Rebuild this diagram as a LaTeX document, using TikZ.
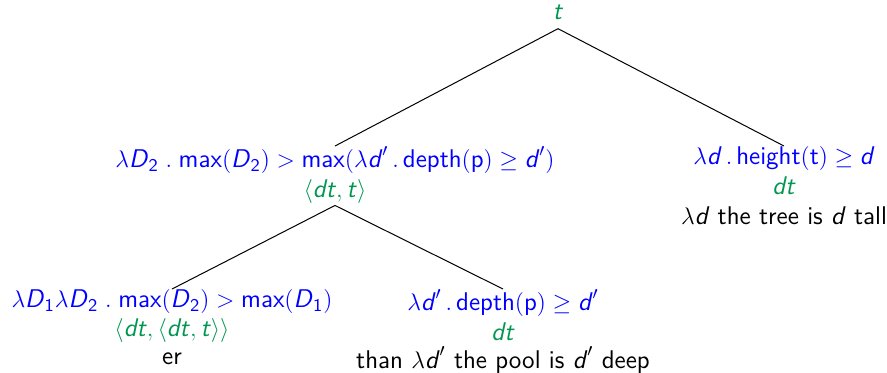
\documentclass[tikz,border=0pt]{standalone}
\usepackage{amsmath}
\usepackage{fontspec}
\definecolor{fgreen}{RGB}{0,150,80}
\definecolor{fblue}{RGB}{0,0,255}
\newcommand\mv[1]{\text{\normalfont\sffamily\itshape #1\/}}
\newcommand\mr[1]{\text{\normalfont\sffamily #1}}
\begin{document}
\begin{tikzpicture}[x=0.5pt,y=-0.5pt,
  every node/.style={font=\sffamily\fontsize{12.8}{14}\selectfont},
  tnode/.style={align=center,inner sep=0pt,anchor=north},
  edge/.style={draw=black,line width=0.5pt}]
\useasboundingbox (0,0) rectangle (887,372);
\node[tnode] (root) at (558,4) {\color{fgreen}$\mv{t}$};
\coordinate (apex) at ([yshift=-4.5pt]root.south);
\node[tnode] (l) at (335,146) {\color{fblue}$\lambda \mv{D}_{\mr{2}}\;.\;\mr{max}(\mv{D}_{\mr{2}}) > \mr{max}(\lambda \mv{d}'\,.\,\mr{depth}(\mr{p}) \geq \mv{d}')$\\[0.6pt]
  \color{fgreen}$\langle \mv{dt}, \mv{t}\rangle$};
\coordinate (lb) at ([yshift=-1pt]l.south);
\node[tnode] (r) at (784,146) {\color{fblue}$\lambda \mv{d}\,.\,\mr{height}(\mr{t}) \geq \mv{d}$\\[1pt]
  \color{fgreen}$\mv{dt}$\\[1pt]
  $\lambda \mv{d}$ the tree is $\mv{d}$ tall};
\node[tnode] (ll) at (172,289) {\color{fblue}$\lambda \mv{D}_{\mr{1}}\lambda \mv{D}_{\mr{2}}\;.\;\mr{max}(\mv{D}_{\mr{2}}) > \mr{max}(\mv{D}_{\mr{1}})$\\[0.6pt]
  \color{fgreen}$\langle \mv{dt}, \langle \mv{dt}, \mv{t}\rangle\rangle$\\
  er};
\node[tnode] (lr) at (503,289) {\color{fblue}$\lambda \mv{d}'\,.\,\mr{depth}(\mr{p}) \geq \mv{d}'$\\[0.6pt]
  \color{fgreen}$\mv{dt}$\\
  than $\lambda \mv{d}'$ the pool is $\mv{d}'$ deep};
\draw[edge] (apex) -- (l.north);
\draw[edge] (apex) -- (r.north);
\draw[edge] (lb) -- (ll.north);
\draw[edge] (lb) -- (lr.north);
\end{tikzpicture}
\end{document}
